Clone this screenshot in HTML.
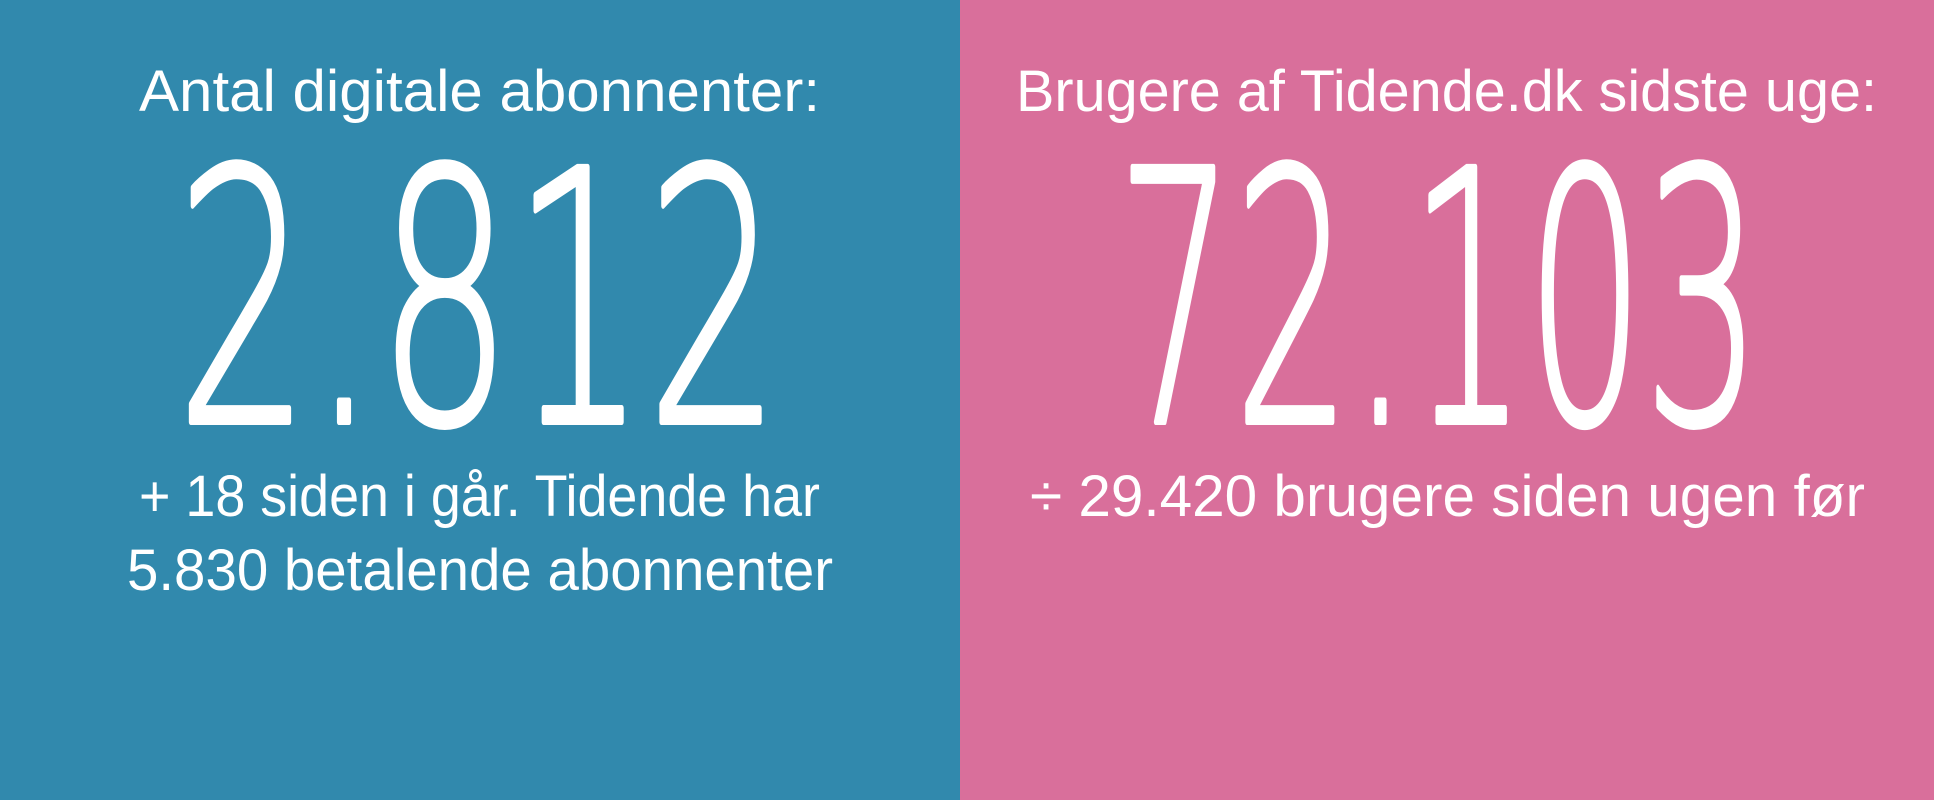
<!DOCTYPE html>
<html><head><meta charset="utf-8"><style>
html,body{margin:0;padding:0;width:1934px;height:800px;overflow:hidden}
svg{display:block}
.t{font-family:"Liberation Sans",sans-serif;font-size:58px;fill:#fff}
.n{font-family:"DejaVu Sans ExtraLight","DejaVu Sans",sans-serif;font-weight:200;font-size:350px;fill:#fff;stroke:#fff;stroke-width:6px;stroke-linejoin:round}
</style></head><body>
<svg width="1934" height="800" viewBox="0 0 1934 800" xmlns="http://www.w3.org/2000/svg">
<rect x="0" y="0" width="960" height="800" fill="#3189ad"/>
<rect x="960" y="0" width="974" height="800" fill="#d96f9b"/>
<text class="t" x="139" y="111" textLength="681" lengthAdjust="spacingAndGlyphs">Antal digitale abonnenter:</text>
<text class="n" x="176" y="422" textLength="605" lengthAdjust="spacingAndGlyphs">2.812</text>
<text class="t" x="139" y="516" textLength="681" lengthAdjust="spacingAndGlyphs">+ 18 siden i går. Tidende har</text>
<text class="t" x="127" y="590" textLength="706" lengthAdjust="spacingAndGlyphs">5.830 betalende abonnenter</text>
<text class="t" x="1016" y="111" textLength="861" lengthAdjust="spacingAndGlyphs">Brugere af Tidende.dk sidste uge:</text>
<text class="n" x="1117" y="422" textLength="644" lengthAdjust="spacingAndGlyphs">72.103</text>
<text class="t" x="1030" y="516" textLength="835" lengthAdjust="spacingAndGlyphs">÷ 29.420 brugere siden ugen før</text>
</svg>
</body></html>
